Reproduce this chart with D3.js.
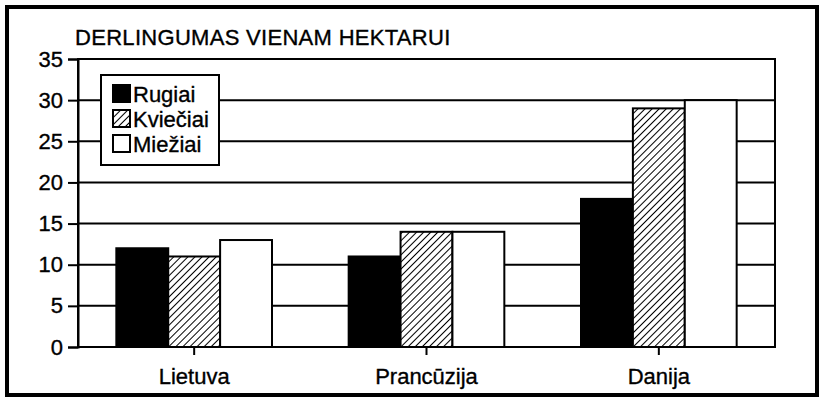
<!DOCTYPE html>
<html>
<head>
<meta charset="utf-8">
<script src="https://cdn.jsdelivr.net/npm/d3@7"></script>
<style>
  body { margin: 0; background: #fff; }
  svg text { font-family: "Liberation Sans", Arial, Helvetica, sans-serif; fill: #000; stroke: #000; stroke-width: 0.35px; }
</style>
</head>
<body>
<svg id="chart" width="822" height="400"></svg>
<script>
const categories = ["Lietuva", "Prancūzija", "Danija"];
const seriesNames = ["Rugiai", "Kviečiai", "Miežiai"];
const rugiai = [12, 11, 18];
const kvieciai = [11, 14, 29];
const mieziai = [13, 14, 30];
const yTicks = [0, 5, 10, 15, 20, 25, 30, 35];
const title = "DERLINGUMAS VIENAM HEKTARUI";

const series = [rugiai, kvieciai, mieziai];
const fills = ["#000", "url(#hatch)", "#fff"];
const fontSize = 22;

const svg = d3.select("#chart");
const margin = { left: 78, right: 47, top: 59, bottom: 53 };
const width = 822, height = 400;
const chartWidth = width - margin.left - margin.right;
const chartHeight = height - margin.top - margin.bottom;

// hatch pattern for the middle series
const defs = svg.append("defs");
const pat = defs.append("pattern")
    .attr("id", "hatch")
    .attr("patternUnits", "userSpaceOnUse")
    .attr("width", 5).attr("height", 5)
    .attr("patternTransform", "rotate(45)");
pat.append("rect").attr("width", 5).attr("height", 5).attr("fill", "#fff");
pat.append("line").attr("x1", 0).attr("y1", 0).attr("x2", 0).attr("y2", 5)
    .attr("stroke", "#000").attr("stroke-width", 2);

// outer frame
svg.append("rect")
    .attr("x", 7).attr("y", 7)
    .attr("width", 810).attr("height", 388)
    .attr("fill", "none").attr("stroke", "#000").attr("stroke-width", 4);

svg.append("text")
    .attr("x", 75).attr("y", 45)
    .attr("font-size", fontSize)
    .attr("letter-spacing", 0.3)
    .text(title);

const g = svg.append("g").attr("transform", `translate(${margin.left},${margin.top})`);

const x0 = d3.scaleBand().domain(categories).range([0, chartWidth]).paddingInner(0.33).paddingOuter(0.165);
const x1 = d3.scaleBand().domain(d3.range(series.length)).range([0, x0.bandwidth()]);
const y = d3.scaleLinear().domain([0, 35]).range([chartHeight, 0]);

// gridlines
g.selectAll("line.grid")
    .data(yTicks)
    .join("line")
    .attr("class", "grid")
    .attr("x1", 0).attr("x2", chartWidth)
    .attr("y1", d => y(d)).attr("y2", d => y(d))
    .attr("stroke", "#000").attr("stroke-width", 2);

// bars
categories.forEach((c, ci) => {
    g.append("g")
        .attr("transform", `translate(${x0(c)},0)`)
        .selectAll("rect")
        .data(series.map((s, si) => ({ si, v: s[ci] })))
        .join("rect")
        .attr("x", d => x1(d.si))
        .attr("y", d => y(d.v))
        .attr("width", x1.bandwidth())
        .attr("height", d => chartHeight - y(d.v))
        .attr("fill", d => fills[d.si])
        .attr("stroke", "#000").attr("stroke-width", 2);
});

// plot frame
g.append("rect")
    .attr("width", chartWidth).attr("height", chartHeight)
    .attr("fill", "none").attr("stroke", "#000").attr("stroke-width", 2);

// y axis
const yAxis = d3.axisLeft(y).tickValues(yTicks).tickSize(10).tickPadding(5);
g.append("g").call(yAxis)
    .call(a => a.select(".domain").attr("stroke-width", 2))
    .call(a => a.selectAll(".tick line").attr("stroke-width", 2))
    .call(a => a.selectAll(".tick text").attr("font-size", fontSize).attr("font-family", null));

// x axis
const xAxis = d3.axisBottom(x0).tickSize(8).tickPadding(13);
g.append("g").attr("transform", `translate(0,${chartHeight})`).call(xAxis)
    .call(a => a.select(".domain").remove())
    .call(a => a.selectAll(".tick line").attr("stroke-width", 2))
    .call(a => a.selectAll(".tick text").attr("font-size", fontSize).attr("font-family", null));

// legend
const legend = svg.append("g").attr("transform", "translate(101,75)");
legend.append("rect")
    .attr("width", 118).attr("height", 90)
    .attr("fill", "#fff").attr("stroke", "#000").attr("stroke-width", 2);
const rows = legend.selectAll("g.row")
    .data(seriesNames)
    .join("g")
    .attr("class", "row")
    .attr("transform", (d, i) => `translate(12,${10 + i * 25})`);
rows.append("rect")
    .attr("width", 17).attr("height", 17)
    .attr("fill", (d, i) => fills[i])
    .attr("stroke", "#000").attr("stroke-width", 2);
rows.append("text")
    .attr("x", 20).attr("y", 17)
    .attr("font-size", fontSize)
    .text(d => d);
</script>
</body>
</html>
